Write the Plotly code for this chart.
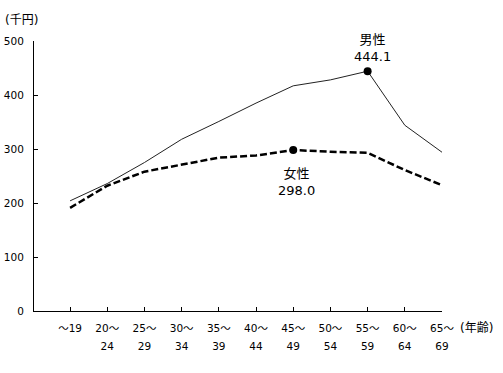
import plotly.graph_objects as go

age_groups = ["～19", "20～24", "25～29", "30～34", "35～39", "40～44",
              "45～49", "50～54", "55～59", "60～64", "65～69"]
tick_labels = ["～19", "20～<br>24", "25～<br>29", "30～<br>34", "35～<br>39", "40～<br>44",
               "45～<br>49", "50～<br>54", "55～<br>59", "60～<br>64", "65～<br>69"]
male = [204.0, 236.0, 275.0, 318.0, 351.0, 385.0, 417.0, 428.0, 444.1, 344.0, 294.0]
female = [191.0, 232.0, 258.0, 271.0, 284.0, 288.0, 298.0, 295.0, 293.0, 261.0, 233.0]
male_peak_idx = 8
female_peak_idx = 6

FONT = "DejaVu Sans, Noto Sans CJK JP, sans-serif"
xs = list(range(len(age_groups)))

W, H = 503, 373
ML, MR, MT, MB = 34, 61, 41, 62
pw = W - ML - MR
ph = H - MT - MB

def px_x(x):
    return (x - ML) / pw

def px_y(y):
    return (H - MB - y) / ph

fig = go.Figure()
fig.add_trace(go.Scatter(x=xs, y=male, mode="lines",
                         line=dict(color="#222222", width=1), name="男性",
                         hoverinfo="skip"))
fig.add_trace(go.Scatter(x=xs, y=female, mode="lines",
                         line=dict(color="black", width=2.5, dash="7px,3px"),
                         name="女性", hoverinfo="skip"))
fig.add_trace(go.Scatter(x=[xs[male_peak_idx], xs[female_peak_idx]],
                         y=[male[male_peak_idx], female[female_peak_idx]],
                         mode="markers", marker=dict(color="black", size=8),
                         hoverinfo="skip"))

styled_ticks = ['<span style="font-size:10.5px">' + t + '</span>' for t in tick_labels]

mx, my = xs[male_peak_idx], male[male_peak_idx]
fx, fy = xs[female_peak_idx], female[female_peak_idx]

fig.update_layout(
    width=W, height=H,
    margin=dict(l=ML, r=MR, t=MT, b=MB, autoexpand=False),
    paper_bgcolor="white", plot_bgcolor="white",
    showlegend=False,
    font=dict(family=FONT, size=11, color="black"),
    xaxis=dict(range=[-0.97, 10], tickmode="array", tickvals=xs, ticktext=styled_ticks,
               tickfont=dict(size=14, family=FONT, color="black"),
               ticks="inside", ticklen=4, tickcolor="black", ticklabelstandoff=3,
               showline=True, linecolor="black", linewidth=1,
               showgrid=False, zeroline=False, fixedrange=True, automargin=False),
    yaxis=dict(range=[0, 500], dtick=100, tickmode="linear",
               tickfont=dict(size=10.5, family=FONT, color="black"),
               ticks="inside", ticklen=4, tickcolor="black", ticklabelstandoff=7,
               showline=True, linecolor="black", linewidth=1,
               showgrid=False, zeroline=False, fixedrange=True, automargin=False),
    annotations=[
        dict(x=mx, y=my, xref="x", yref="y", text="男性<br>" + f"{my:.1f}",
             showarrow=False, yanchor="middle", yshift=23, xshift=5,
             font=dict(size=13)),
        dict(x=fx, y=fy, xref="x", yref="y", text="女性<br>" + f"{fy:.1f}",
             showarrow=False, yanchor="middle", yshift=-32, xshift=3,
             font=dict(size=13)),
        dict(x=px_x(3), y=px_y(20), xref="paper", yref="paper", xanchor="left",
             yanchor="middle", text="(千円)", showarrow=False, font=dict(size=12)),
        dict(x=px_x(458), y=px_y(328), xref="paper", yref="paper", xanchor="left",
             yanchor="middle", text="(年齢)", showarrow=False, font=dict(size=12)),
    ],
)

fig.write_html("out.html", config={"displayModeBar": False},
               post_script="document.body.style.margin='0';document.body.style.padding='0';")
